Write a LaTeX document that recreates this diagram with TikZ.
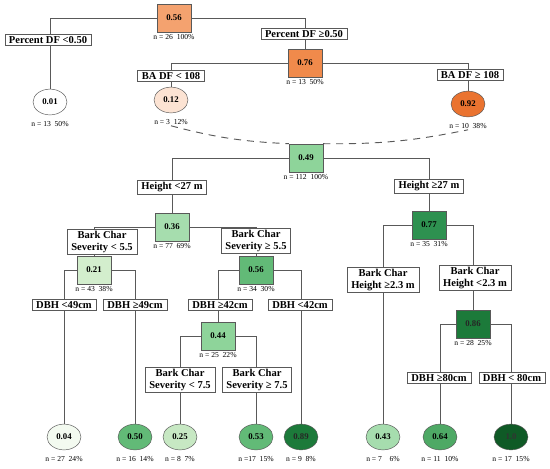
\documentclass[tikz,border=0pt]{standalone}
\usepackage{fontspec}
\setmainfont{Liberation Serif}
\usetikzlibrary{shapes.geometric}
\definecolor{or0}{HTML}{FCE3D3}
\definecolor{or1}{HTML}{F4A26F}
\definecolor{or2}{HTML}{F08A4B}
\definecolor{or3}{HTML}{EA7330}
\definecolor{gr0}{HTML}{F3FAF0}
\definecolor{gr1}{HTML}{D3EECD}
\definecolor{gr2}{HTML}{C7E8C3}
\definecolor{gr3}{HTML}{A6DDAE}
\definecolor{gr4}{HTML}{8ED49A}
\definecolor{gr5}{HTML}{62BA77}
\definecolor{gr6}{HTML}{4EA965}
\definecolor{gr7}{HTML}{2E9150}
\definecolor{gr8}{HTML}{1C7A3A}
\definecolor{gr9}{HTML}{0F5A26}
\definecolor{edge}{HTML}{595959}

\begin{document}
\begin{tikzpicture}[x=0.03cm,y=-0.03cm]
\tikzstyle{val}=[draw=edge,minimum width=29pt,minimum height=24pt,font=\fontsize{7.5}{8}\selectfont\bfseries]
\tikzstyle{leaf}=[draw=edge,ellipse,minimum width=29pt,minimum height=22pt,inner sep=0pt,font=\fontsize{7.5}{8}\selectfont\bfseries]
\tikzstyle{split}=[draw=edge,fill=white,inner xsep=3.5pt,inner ysep=1.8pt,align=center,font=\fontsize{9}{9.5}\selectfont\bfseries]
\tikzstyle{nlab}=[below=1pt,inner sep=1pt,font=\fontsize{6.5}{7}\selectfont]
\tikzstyle{nleaf}=[below=4pt,inner sep=1pt,font=\fontsize{6.5}{7}\selectfont]
\useasboundingbox (0,0) rectangle (550,469);
% upper tree
\node [val,fill=or1] (a) at (174,18) {0.56};
\node [leaf,fill=white] (b) at (50,102) {0.01};
\node [val,fill=or2] (c) at (305,63) {0.76};
\node [leaf,fill=or0] (d) at (171,100) {0.12};
\node [leaf,fill=or3] (e) at (468,104) {0.92};
% lower tree
\node [val,fill=gr4] (f) at (306,158) {0.49};
\node [val,fill=gr3] (g) at (172,227) {0.36};
\node [val,fill=gr7] (h) at (429,225) {0.77};
\node [val,fill=gr1] (i) at (94,270) {0.21};
\node [val,fill=gr5] (j) at (256,270) {0.56};
\node [val,fill=gr4] (k) at (218,336) {0.44};
\node [val,fill=gr8,text=black!85] (l) at (473,324) {0.86};
\node [leaf,fill=gr0] (m) at (64,437) {0.04};
\node [leaf,fill=gr5] (n) at (135,437) {0.50};
\node [leaf,fill=gr2] (o) at (180,437) {0.25};
\node [leaf,fill=gr5] (p) at (256,437) {0.53};
\node [leaf,fill=gr8,text=black!85] (q) at (301,437) {0.89};
\node [leaf,fill=gr3] (r) at (383,437) {0.43};
\node [leaf,fill=gr6] (s) at (440,437) {0.64};
\node [leaf,fill=gr9,text=black!80] (t) at (511,437) {1.0};
\begin{scope}[draw=edge,line width=0.8pt]
\draw (a) -| (b);
\draw (a) -| (c);
\draw (c) -| (d);
\draw (c) -| (e);
\draw (f) -| (g);
\draw (f) -| (h);
\draw (g) -| (i);
\draw (g) -| (j);
\draw (i) -| (m);
\draw (i) -| (n);
\draw (j) -| (k);
\draw (j) -| (q);
\draw (k) -| (o);
\draw (k) -| (p);
\draw (h) -| (r);
\draw (h) -| (l);
\draw (l) -| (s);
\draw (l) -| (t);
\end{scope}
% split rules
\node [split] (sa) at (48,40) {Percent DF <0.50};
\node [split] (sb) at (304,34) {Percent DF ≥0.50};
\node [split] (sc) at (171,76) {BA DF < 108};
\node [split] (sd) at (470,75) {BA DF ≥ 108};
\node [split] (se) at (172,187) {Height <27 m};
\node [split] (sf) at (429,186) {Height ≥27 m};
\node [split] (sg) at (102,242) {Bark Char\\Severity < 5.5};
\node [split] (sh) at (256,241) {Bark Char\\Severity ≥ 5.5};
\node [split] (si) at (64,305) {DBH <49cm};
\node [split] (sj) at (135,305) {DBH ≥49cm};
\node [split] (sk) at (220,305) {DBH ≥42cm};
\node [split] (sl) at (300,305) {DBH <42cm};
\node [split] (sm) at (180,380) {Bark Char\\Severity < 7.5};
\node [split] (sn) at (257,380) {Bark Char\\Severity ≥ 7.5};
\node [split] (so) at (383,280) {Bark Char\\Height ≥2.3 m};
\node [split] (sp) at (475,278) {Bark Char\\Height <2.3 m};
\node [split] (sq) at (439,378) {DBH ≥80cm};
\node [split] (sr) at (512,378) {DBH < 80cm};
% counts
\node [nlab] (an) at (a.south) {n = 26~~100\%};
\node [nleaf] (bn) at (b.south) {n = 13~~50\%};
\node [nlab] (cn) at (c.south) {n = 13~~50\%};
\node [nleaf] (dn) at (d.south) {n = 3~~12\%};
\node [nleaf] (en) at (e.south) {n = 10~~38\%};
\node [nlab] (fn) at (f.south) {n = 112~~100\%};
\node [nlab] (gn) at (g.south) {n = 77~~69\%};
\node [nlab] (hn) at (h.south) {n = 35~~31\%};
\node [nlab] (in) at (i.south) {n = 43~~38\%};
\node [nlab] (jn) at (j.south) {n = 34~~30\%};
\node [nlab] (kn) at (k.south) {n = 25~~22\%};
\node [nlab] (ln) at (l.south) {n = 28~~25\%};
\node [nleaf] (mn) at (m.south) {n = 27~~24\%};
\node [nleaf] (nn) at (n.south) {n = 16~~14\%};
\node [nleaf] (on) at (o.south) {n = 8~~7\%};
\node [nleaf] (pn) at (p.south) {n =17~~15\%};
\node [nleaf] (qn) at (q.south) {n = 9~~8\%};
\node [nleaf] (rn) at (r.south) {n = 7~~~~6\%};
\node [nleaf] (sn2) at (s.south) {n = 11~~10\%};
\node [nleaf] (tn) at (t.south) {n = 17~~15\%};
% link between the two trees
\draw [draw=edge,line width=0.8pt,dash pattern=on 6pt off 5pt] (dn.south) to[bend right=6] (f.north west);
\draw [draw=edge,line width=0.8pt,dash pattern=on 6pt off 5pt] (f.north east) to[bend right=6] (en.south);
\end{tikzpicture}
\end{document}
